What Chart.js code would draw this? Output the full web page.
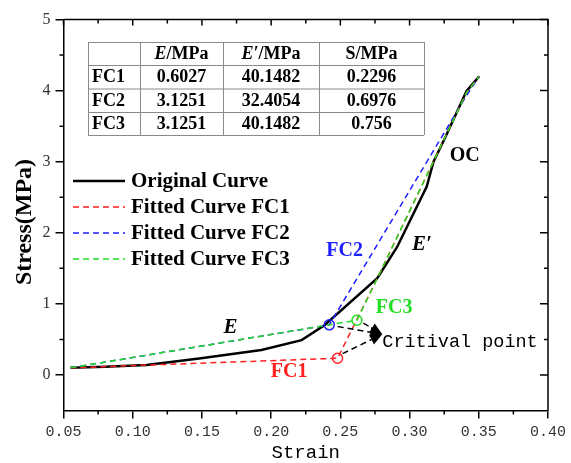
<!DOCTYPE html>
<html>
<head>
<meta charset="utf-8">
<script src="https://cdn.jsdelivr.net/npm/chart.js@4.4.0/dist/chart.umd.min.js"></script>
<style>
html, body { margin: 0; padding: 0; background: #fff; }
</style>
</head>
<body>
<canvas id="stress_chart" width="571" height="463"></canvas>
<script>
// values
var strainOrig = [0.055, 0.08, 0.11, 0.148, 0.193, 0.222, 0.2385, 0.2767, 0.291, 0.3124, 0.3173, 0.3255, 0.3411, 0.3503];
var stressOrig = [0.10, 0.115, 0.14, 0.23, 0.35, 0.49, 0.70, 1.36, 1.80, 2.65, 3.00, 3.33, 3.99, 4.20];

var strainFC1 = [0.055, 0.248, 0.2767, 0.3411, 0.3503];
var stressFC1 = [0.10, 0.235, 1.36, 3.97, 4.20];
var strainFC2 = [0.055, 0.242, 0.3411, 0.3503];
var stressFC2 = [0.10, 0.705, 3.93, 4.20];
var strainFC3 = [0.055, 0.262, 0.2767, 0.3411, 0.3503];
var stressFC3 = [0.10, 0.77, 1.36, 3.97, 4.20];

var xTicks = [0.05, 0.10, 0.15, 0.20, 0.25, 0.30, 0.35, 0.40];
var xMinor = [0.075, 0.125, 0.175, 0.225, 0.275, 0.325, 0.375];
var yTicks = [0, 1, 2, 3, 4, 5];
var yMinor = [0.5, 1.5, 2.5, 3.5, 4.5];

var tableHead = ["", "E", "E\u2032", "S"];
var tableRows = ["FC1", "FC2", "FC3"];
var tableE = ["0.6027", "3.1251", "3.1251"];
var tableE2 = ["40.1482", "32.4054", "40.1482"];
var tableS = ["0.2296", "0.6976", "0.756"];

function pts(xs, ys) {
    var out = [];
    for (var i = 0; i < xs.length; i += 1) {
        out.push({x: xs[i], y: ys[i]});
    }
    return out;
}

function ringAt(idx) {
    return function (c) { return c.dataIndex === idx ? 5 : 0; };
}

var RED = "#ff2020", BLUE = "#2020ff", GREEN = "#22dd22";

// text placed in data coordinates
var notes = [
    {text: "FC2", x: 0.2531, y: 1.74, color: BLUE, font: "bold 20px 'Liberation Serif'"},
    {text: "FC3", x: 0.2889, y: 0.94, color: GREEN, font: "bold 20px 'Liberation Serif'"},
    {text: "FC1", x: 0.213, y: 0.04, color: RED, font: "bold 20px 'Liberation Serif'"},
    {text: "OC", x: 0.3398, y: 3.08, color: "#000", font: "bold 20px 'Liberation Serif'"},
    {text: "E", x: 0.1707, y: 0.66, color: "#000", font: "italic bold 21px 'Liberation Serif'"},
    {text: "E\u2032", x: 0.3089, y: 1.83, color: "#000", font: "italic bold 21px 'Liberation Serif'"}
];
var arrowTip = {x: 0.2803, y: 0.573};
var arrowFrom = [{x: 0.2516, y: 0.30}, {x: 0.2481, y: 0.68}, {x: 0.2666, y: 0.73}];

var extras = {
    id: "extras",
    afterDraw: function (chart) {
        var ctx = chart.ctx;
        var a = chart.chartArea;
        var xs = chart.scales.x, ys = chart.scales.y;
        var i, p;
        ctx.save();
        ctx.strokeStyle = "#000";
        ctx.lineWidth = 1.5;
        ctx.beginPath();
        ctx.moveTo(a.left, a.top);
        ctx.lineTo(a.right, a.top);
        ctx.lineTo(a.right, a.bottom);
        ctx.stroke();

        ctx.beginPath();
        for (i = 0; i < xTicks.length; i += 1) {
            p = xs.getPixelForValue(xTicks[i]);
            ctx.moveTo(p, a.top); ctx.lineTo(p, a.top + 6);
        }
        for (i = 0; i < xMinor.length; i += 1) {
            p = xs.getPixelForValue(xMinor[i]);
            ctx.moveTo(p, a.top); ctx.lineTo(p, a.top + 4);
            ctx.moveTo(p, a.bottom); ctx.lineTo(p, a.bottom + 4);
        }
        for (i = 0; i < yTicks.length; i += 1) {
            p = ys.getPixelForValue(yTicks[i]);
            ctx.moveTo(a.right, p); ctx.lineTo(a.right - 8, p);
        }
        for (i = 0; i < yMinor.length; i += 1) {
            p = ys.getPixelForValue(yMinor[i]);
            ctx.moveTo(a.right, p); ctx.lineTo(a.right - 4, p);
            ctx.moveTo(a.left, p); ctx.lineTo(a.left - 4, p);
        }
        ctx.stroke();

        // axis titles
        ctx.fillStyle = "#000";
        ctx.textAlign = "center";
        ctx.textBaseline = "middle";
        ctx.font = "19px 'Liberation Mono'";
        ctx.fillText("Strain", (a.left + a.right) / 2, 453);
        ctx.save();
        ctx.translate(25, 222);
        ctx.rotate(-Math.PI / 2);
        ctx.font = "bold 24px 'Liberation Serif'";
        ctx.fillText("Stress(MPa)", 0, 0);
        ctx.restore();

        // legend
        var ds = chart.data.datasets;
        for (i = 0; i < ds.length; i += 1) {
            var ly = 181 + i * 26;
            ctx.beginPath();
            ctx.strokeStyle = ds[i].borderColor;
            ctx.lineWidth = ds[i].borderWidth;
            ctx.setLineDash(ds[i].borderDash || []);
            ctx.moveTo(73, ly);
            ctx.lineTo(125, ly);
            ctx.stroke();
            ctx.setLineDash([]);
            ctx.fillStyle = "#000";
            ctx.textAlign = "left";
            ctx.font = "bold 21px 'Liberation Serif'";
            ctx.fillText(ds[i].label, 131, ly + 1);
        }

        // table
        var colX = [88, 140, 223, 319, 424];
        var rowY = [42, 65, 88.5, 112, 135];
        ctx.strokeStyle = "#8a8a8a";
        ctx.lineWidth = 1;
        ctx.beginPath();
        for (i = 0; i < colX.length; i += 1) {
            ctx.moveTo(colX[i] + 0.5, rowY[0]); ctx.lineTo(colX[i] + 0.5, rowY[4]);
        }
        for (i = 0; i < rowY.length; i += 1) {
            ctx.moveTo(colX[0], rowY[i] + 0.5); ctx.lineTo(colX[4], rowY[i] + 0.5);
        }
        ctx.stroke();
        ctx.fillStyle = "#000";
        ctx.textBaseline = "middle";
        var bold = "bold 18px 'Liberation Serif'";
        var ital = "italic bold 18px 'Liberation Serif'";
        for (var c = 1; c < 4; c += 1) {
            var cx = (colX[c] + colX[c + 1]) / 2, cy = (rowY[0] + rowY[1]) / 2 + 1;
            var head = tableHead[c], tail = "/MPa";
            ctx.font = c === 3 ? bold : ital;
            var w1 = ctx.measureText(head).width;
            ctx.font = bold;
            var w2 = ctx.measureText(tail).width;
            var sx = cx - (w1 + w2) / 2;
            ctx.textAlign = "left";
            ctx.font = c === 3 ? bold : ital;
            ctx.fillText(head, sx, cy);
            ctx.font = bold;
            ctx.fillText(tail, sx + w1, cy);
        }
        for (var r = 0; r < tableRows.length; r += 1) {
            var ry = (rowY[r + 1] + rowY[r + 2]) / 2 + 1;
            ctx.font = bold;
            ctx.textAlign = "left";
            ctx.fillText(tableRows[r], colX[0] + 4, ry);
            ctx.textAlign = "center";
            ctx.fillText(tableE[r], (colX[1] + colX[2]) / 2, ry);
            ctx.fillText(tableE2[r], (colX[2] + colX[3]) / 2, ry);
            ctx.fillText(tableS[r], (colX[3] + colX[4]) / 2, ry);
        }

        // labels on the plot
        ctx.textAlign = "center";
        for (i = 0; i < notes.length; i += 1) {
            ctx.font = notes[i].font;
            ctx.fillStyle = notes[i].color;
            ctx.fillText(notes[i].text, xs.getPixelForValue(notes[i].x), ys.getPixelForValue(notes[i].y));
        }

        // arrows to the critical point label
        var tx = xs.getPixelForValue(arrowTip.x), ty = ys.getPixelForValue(arrowTip.y);
        for (i = 0; i < arrowFrom.length; i += 1) {
            var fx = xs.getPixelForValue(arrowFrom[i].x), fy = ys.getPixelForValue(arrowFrom[i].y);
            var ang = Math.atan2(ty - fy, tx - fx);
            var bx = tx - 12 * Math.cos(ang), by = ty - 12 * Math.sin(ang);
            ctx.strokeStyle = "#000";
            ctx.lineWidth = 1.5;
            ctx.setLineDash([6, 4]);
            ctx.beginPath();
            ctx.moveTo(fx, fy);
            ctx.lineTo(bx, by);
            ctx.stroke();
            ctx.setLineDash([]);
            ctx.fillStyle = "#000";
            ctx.beginPath();
            ctx.moveTo(tx, ty);
            ctx.lineTo(bx + 5.5 * Math.sin(ang), by - 5.5 * Math.cos(ang));
            ctx.lineTo(bx - 5.5 * Math.sin(ang), by + 5.5 * Math.cos(ang));
            ctx.closePath();
            ctx.fill();
        }
        ctx.fillStyle = "#000";
        ctx.textAlign = "left";
        ctx.font = "18.5px 'Liberation Mono'";
        ctx.fillText("Critival point", tx, ty + 8);
        ctx.restore();
    }
};

var ctx = document.getElementById("stress_chart");
var myChart = new Chart(ctx, {
    type: "line",
    data: {
        datasets: [
            {
                label: "Original Curve",
                data: pts(strainOrig, stressOrig),
                borderColor: "#000",
                borderWidth: 2.5,
                pointRadius: 0,
                order: 3
            },
            {
                label: "Fitted Curve FC1",
                data: pts(strainFC1, stressFC1),
                borderColor: RED,
                borderWidth: 1.5,
                borderDash: [6, 4],
                pointRadius: ringAt(1),
                pointBorderColor: RED,
                pointBorderWidth: 1.5,
                pointBackgroundColor: "rgba(0,0,0,0)",
                order: 1
            },
            {
                label: "Fitted Curve FC2",
                data: pts(strainFC2, stressFC2),
                borderColor: BLUE,
                borderWidth: 1.5,
                borderDash: [6, 4],
                pointRadius: ringAt(1),
                pointBorderColor: BLUE,
                pointBorderWidth: 1.5,
                pointBackgroundColor: "rgba(0,0,0,0)",
                order: 2
            },
            {
                label: "Fitted Curve FC3",
                data: pts(strainFC3, stressFC3),
                borderColor: GREEN,
                borderWidth: 1.5,
                borderDash: [6, 4],
                pointRadius: ringAt(1),
                pointBorderColor: GREEN,
                pointBorderWidth: 1.5,
                pointBackgroundColor: "rgba(0,0,0,0)",
                order: 0
            }
        ]
    },
    options: {
        responsive: false,
        animation: false,
        layout: {padding: {left: 0, right: 19, top: 19.5, bottom: 0}},
        plugins: {legend: {display: false}, tooltip: {enabled: false}},
        scales: {
            x: {
                type: "linear",
                min: 0.05,
                max: 0.40,
                afterBuildTicks: function (s) { s.ticks = xTicks.map(function (v) { return {value: v}; }); },
                afterFit: function (s) { s.height = 52.5; },
                grid: {drawOnChartArea: false, drawTicks: true, tickLength: 8, color: "#000", lineWidth: 1.5},
                border: {display: true, color: "#000", width: 1.5},
                ticks: {
                    color: "#333",
                    font: {family: "'Liberation Mono'", size: 15},
                    padding: 5,
                    maxRotation: 0,
                    autoSkip: false,
                    callback: function (v) { return Number(v).toFixed(2); }
                }
            },
            y: {
                type: "linear",
                min: -0.5,
                max: 5,
                afterBuildTicks: function (s) { s.ticks = yTicks.map(function (v) { return {value: v}; }); },
                afterFit: function (s) { s.width = 63.5; },
                grid: {drawOnChartArea: false, drawTicks: true, tickLength: 8, color: "#000", lineWidth: 1.5},
                border: {display: true, color: "#000", width: 1.5},
                ticks: {
                    color: "#333",
                    font: {family: "'Liberation Serif'", size: 16},
                    padding: 5,
                    autoSkip: false,
                    callback: function (v) { return String(v); }
                }
            }
        }
    },
    plugins: [extras]
});
</script>
</body>
</html>
